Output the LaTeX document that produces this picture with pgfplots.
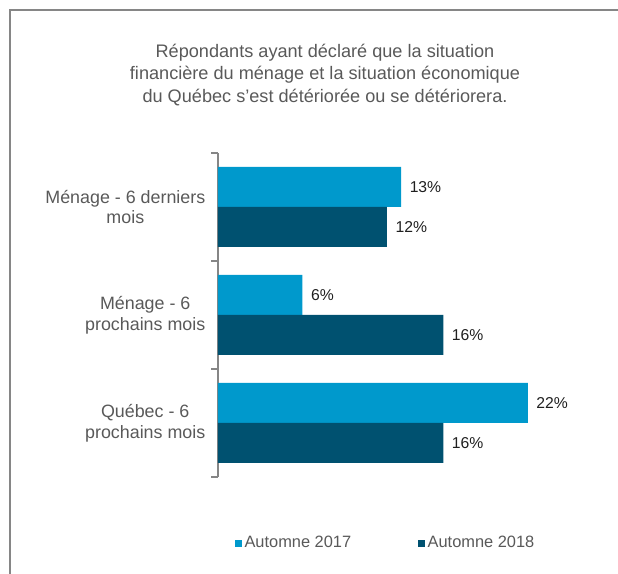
\documentclass[border=0pt]{standalone}
\usepackage{pgfplots}
\pgfplotsset{compat=1.18}
\usepackage{fontspec}
\setmainfont{Liberation Sans}

\definecolor{bleuclair}{RGB}{0,153,204}
\definecolor{bleufonce}{RGB}{0,81,112}
\definecolor{textgris}{RGB}{89,89,89}
\definecolor{axegris}{RGB}{134,134,134}

\begin{document}
\begin{tikzpicture}[x=0.75pt,y=0.75pt]
\path[use as bounding box] (0,0) rectangle (618,574);
% frame (cut on the right and bottom)
\draw[axegris,line width=1.5pt] (10,0) -- (10,563.5) -- (618,563.5);

\node[align=center,text=textgris,font=\fontsize{13.6}{16.8}\selectfont]
  at (325,499) {Répondants ayant déclaré que la situation\\
  financière du ménage et la situation économique\\
  du Québec s’est détériorée ou se détériorera.};

\coordinate (coin) at (218,421);
\begin{axis}[
  at={(coin)}, anchor=north west,
  scale only axis,
  width=264pt, height=243pt,
  xbar,
  bar width=30pt,
  xmin=0, xmax=25,
  ymin=-0.5, ymax=2.5,
  axis x line=none,
  axis y line*=left,
  y axis line style={axegris,line width=0.8pt,-},
  ytick={0,1,2},
  yticklabels={{Québec - 6\\prochains mois},{Ménage - 6\\prochains mois},{Ménage - 6 derniers\\mois}},
  yticklabel style={align=center,text=textgris,font=\fontsize{13.4}{15.5}\selectfont,xshift=-6pt},
  major tick length=0pt,
  minor ytick={-0.5,0.5,1.5,2.5},
  minor tick length=5pt,
  tick align=outside,
  minor tick style={axegris,line width=0.8pt},
  nodes near coords={\pgfmathprintnumber[assume math mode=true]{\pgfplotspointmeta}\%},
  nodes near coords style={font=\fontsize{11.8}{14}\selectfont,text=black!88,xshift=3pt},
  legend style={at={(0.477,-0.204)},anchor=center,draw=none,legend columns=2,
    font=\fontsize{12.3}{14}\selectfont,text=textgris,
    /tikz/every even column/.append style={column sep=48pt}},
  legend image code/.code={\fill[#1] (0pt,-2.6pt) rectangle (5.3pt,2.6pt);},
]
\addplot[fill=bleuclair,draw=none,bar shift=15pt] coordinates {(13,2) (6,1) (22,0)};
\addplot[fill=bleufonce,draw=none,bar shift=-15pt] coordinates {(12,2) (16,1) (16,0)};
\legend{Automne 2017, Automne 2018}
\end{axis}
\end{tikzpicture}
\end{document}
